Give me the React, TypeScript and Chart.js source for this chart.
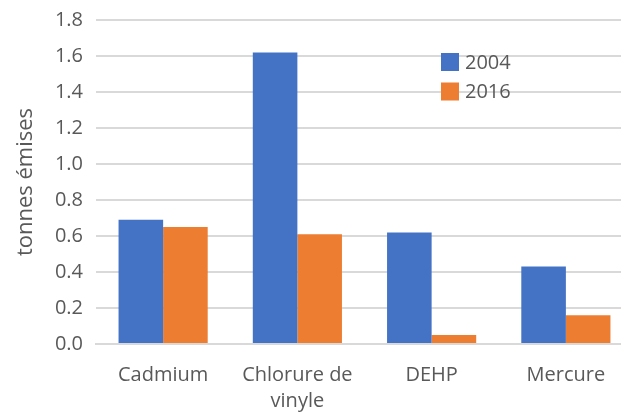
import React, { useEffect, useRef } from 'react';
import { Chart, registerables } from 'chart.js';

Chart.register(...registerables);

const categories: (string | string[])[] = ['Cadmium', ['Chlorure de', 'vinyle'], 'DEHP', 'Mercure'];
const seriesNames = ['2004', '2016'];
const values2004 = [0.69, 1.62, 0.62, 0.43];
const values2016 = [0.65, 0.61, 0.05, 0.16];
const seriesColors = ['#4472C4', '#ED7D31'];
const yMin = 0;
const yMax = 1.8;
const yStep = 0.2;
const yTitle = 'tonnes émises';

const FONT = "'Open Sans', 'Noto Sans', sans-serif";
const TEXT = '#595959';

const insideLegend = {
  id: 'insideLegend',
  afterDraw(chart: any) {
    const ctx = chart.ctx;
    ctx.save();
    ctx.font = `20px ${FONT}`;
    ctx.textBaseline = 'middle';
    ctx.textAlign = 'left';
    const x = 441;
    const ys = [62, 91.5];
    chart.data.datasets.forEach((ds: any, i: number) => {
      const y = ys[i];
      ctx.fillStyle = ds.backgroundColor;
      ctx.fillRect(x, y - 9, 18, 18);
      ctx.fillStyle = TEXT;
      ctx.fillText(ds.label, x + 24, y + 1);
    });
    ctx.restore();
  },
};

export default function App() {
  const ref = useRef<HTMLCanvasElement | null>(null);
  useEffect(() => {
    if (!ref.current) return;
    document.body.style.background = '#ffffff';
    const chart = new Chart(ref.current, {
      type: 'bar',
      data: {
        labels: categories,
        datasets: [
          { label: seriesNames[0], data: values2004, backgroundColor: seriesColors[0] },
          { label: seriesNames[1], data: values2016, backgroundColor: seriesColors[1] },
        ],
      },
      options: {
        responsive: false,
        animation: false,
        devicePixelRatio: 1,
        layout: { padding: { left: 5, right: 7, top: 20, bottom: 4 } },
        datasets: { bar: { categoryPercentage: 0.664, barPercentage: 1.0 } },
        plugins: {
          legend: { display: false },
          tooltip: { enabled: false },
        },
        scales: {
          x: {
            grid: { display: false, drawTicks: false },
            border: { display: true, color: '#d9d9d9', width: 2 },
            ticks: {
              color: TEXT,
              font: { family: FONT, size: 20, lineHeight: 1.3 },
              padding: 18,
              maxRotation: 0,
              autoSkip: false,
            },
            afterFit(scale: any) {
              scale.height = 82;
            },
          },
          y: {
            min: yMin,
            max: yMax,
            ticks: {
              stepSize: yStep,
              color: TEXT,
              font: { family: FONT, size: 20 },
              padding: 13,
              callback: (v: any) => Number(v).toFixed(1),
            },
            grid: { color: '#d9d9d9', lineWidth: 2, drawTicks: false },
            border: { display: false },
            title: {
              display: true,
              text: yTitle,
              color: TEXT,
              font: { family: FONT, size: 22, lineHeight: 1.2 },
              padding: { top: 8, bottom: 0 },
            },
            afterFit(scale: any) {
              scale.width = 91;
              scale.paddingTop = 0;
              scale.paddingBottom = 0;
            },
          },
        },
      },
      plugins: [insideLegend],
    });
    return () => chart.destroy();
  }, []);
  return (
    <div style={{ position: 'absolute', left: 0, top: 0, width: 621, height: 412, overflow: 'hidden', background: '#fff' }}>
      <canvas ref={ref} width={640} height={430} style={{ display: 'block' }} />
    </div>
  );
}
